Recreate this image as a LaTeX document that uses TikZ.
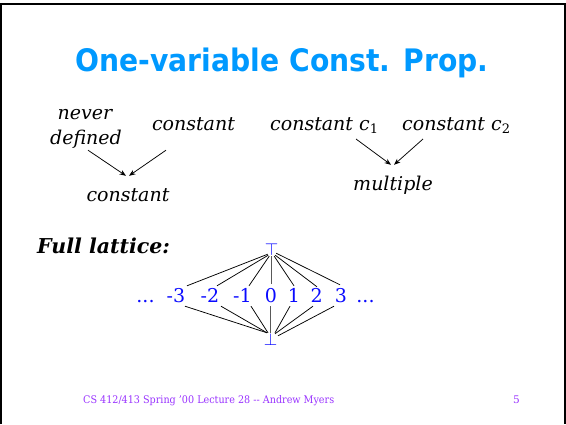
\documentclass[tikz,border=0pt]{standalone}
\usepackage{fontspec}
\setmainfont{DejaVu Serif}
\newfontfamily\titlefont{DejaVu Sans}
\usetikzlibrary{calc,arrows.meta}
\definecolor{titleblue}{RGB}{0,153,255}
\definecolor{numblue}{RGB}{10,10,255}
\definecolor{footpurple}{RGB}{153,51,255}
\newcommand{\csub}[1]{ c\raisebox{-3.5pt}{\fontsize{13}{13}\selectfont\upshape #1}}
\tikzset{
  lbl/.style={inner sep=0pt, anchor=base, font=\fontsize{19}{19}\selectfont\itshape, text height=14pt, text depth=4pt},
  num/.style={inner sep=0pt, anchor=base, font=\fontsize{19}{19}\selectfont, text=numblue, text height=14pt, text depth=0pt},
  topbot/.style={inner sep=0pt, anchor=base, text=numblue, font=\fontsize{19}{19}\selectfont},
  arr/.style={-{Stealth[length=6.5pt,width=5pt]}, line width=0.75pt},
  edge/.style={line width=0.75pt},
  midedge/.style={line width=1.1pt, black!65},
  foottxt/.style={inner sep=0pt, anchor=base west, text=footpurple, font=\fontsize{10.5}{10.5}\selectfont},
}
\begin{document}
\begin{tikzpicture}[x=1pt,y=-1pt]
\useasboundingbox (0,0) rectangle (566,424);
% frame
\draw[line width=2.4pt] (1.2,424) -- (1.2,4) -- (564.8,4) -- (564.8,424);
% title
\node[inner sep=0pt, anchor=base, text=titleblue, font=\titlefont\bfseries\fontsize{31}{31}\selectfont] (title) at (282,71) {\scalebox{0.91}[1]{One-variable Const. Prop.}};
% upper diagrams
\node[lbl] (nv) at (85,119) {never};
\node[lbl] (df) at (86,144) {defined};
\node[lbl] (ct) at (193.5,130) {constant};
\node[lbl] (cb) at (128,201) {constant};
\node[lbl, anchor=base west] (k1) at (270,130) {constant\csub{1}};
\node[lbl, anchor=base west] (k2) at (402,130) {constant\csub{2}};
\node[lbl] (mu) at (393,190) {multiple};
\draw[arr] ($(df.south)+(2,2)$) -- ($(cb.north)+(-2,-11)$);
\draw[arr] ($(ct.south)+(-27.5,16)$) -- ($(cb.north)+(1,-11)$);
\draw[arr] ($(k1.base west)+(86,9)$) -- ($(mu.north)+(-2,-11)$);
\draw[arr] ($(k2.base west)+(21,9)$) -- ($(mu.north)+(1,-11)$);
% full lattice
\node[inner sep=0pt, anchor=base west, font=\fontsize{20.5}{20.5}\selectfont\bfseries\itshape] (fl) at (37,253) {Full lattice:};
\node[topbot] (T) at (271.7,255) {$\top$};
\node[topbot] (B) at (270.5,345) {$\bot$};
\node[num] (dl) at (145.5,302) {...};
\node[num] (m3) at (176,302) {-3};
\node[num] (m2) at (210,302) {-2};
\node[num] (m1) at (242.5,302) {-1};
\node[num] (z0) at (271,302) {0};
\node[num] (p1) at (294,302) {1};
\node[num] (p2) at (316.7,302) {2};
\node[num] (p3) at (341,302) {3};
\node[num] (dr) at (365.5,302) {...};
% top edges
\draw[edge] ($(T.south)+(-4,-1)$) -- ($(m3.north)+(11,-2)$);
\draw[edge] ($(T.south)+(-3.5,0)$) -- ($(m2.north)+(7,-2)$);
\draw[edge] ($(T.south)+(-2.5,1)$) -- ($(m1.north)+(6.5,-2)$);
\draw[midedge] ($(T.south)+(0,1)$) -- ($(z0.north)+(0.7,-4)$);
\draw[edge] ($(T.south)+(2.5,1)$) -- ($(p1.north)+(0,-2)$);
\draw[edge] ($(T.south)+(3.5,0)$) -- ($(p2.north)+(0.3,-1)$);
\draw[edge] ($(T.south)+(4.5,-2)$) -- ($(p3.north)+(-1,-3)$);
% bottom edges
\draw[edge] ($(m3.south)+(9,4)$) -- ($(B.north)+(-3.5,0)$);
\draw[edge] ($(m2.south)+(11,4)$) -- ($(B.north)+(-3.5,0)$);
\draw[edge] ($(m1.south)+(8.5,4)$) -- ($(B.north)+(-2.5,0)$);
\draw[midedge] ($(z0.south)+(-0.5,4)$) -- ($(B.north)+(0,0)$);
\draw[edge] ($(p1.south)+(-4,4)$) -- ($(B.north)+(4.5,0)$);
\draw[edge] ($(p2.south)+(-3.7,4)$) -- ($(B.north)+(4.5,1)$);
\draw[edge] ($(p3.south)+(-7,4)$) -- ($(B.north)+(7.5,3)$);
% footer
\node[foottxt] (foot) at (83,403.5) {\scalebox{0.915}[1]{CS 412/413 Spring '00 Lecture 28 {-}{-} Andrew Myers}};
\node[foottxt] (pg) at (513,403.5) {5};
\end{tikzpicture}
\end{document}
